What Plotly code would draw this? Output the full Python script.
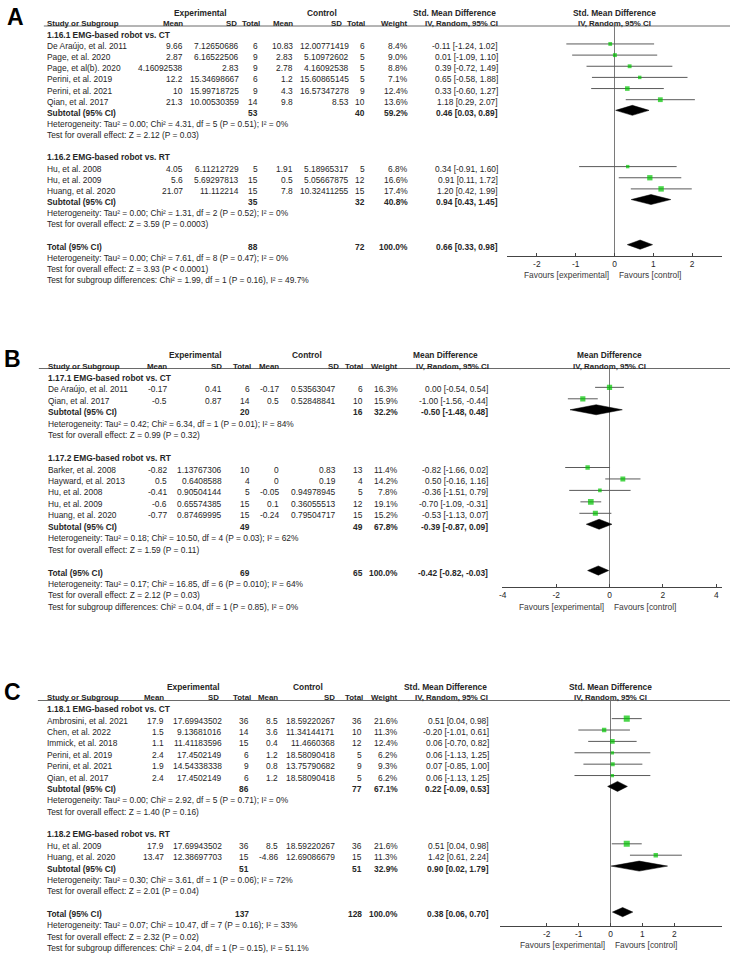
import plotly.graph_objects as go

W, H = 733, 959
FONT = "Liberation Sans, Arial, sans-serif"
FS = 8.4
FS_HDR = 7.9
TXT = "#262626"
GREEN = "#00c400"

# ---------------- panel A : Std. Mean Difference ----------------
A_measure = "Std. Mean Difference"
A_sub_label = ["1.16.1 EMG-based robot vs. CT", "1.16.2 EMG-based robot vs. RT"]
A_group = [0, 0, 0, 0, 0, 0, 1, 1, 1]
A_study = ["De Araújo, et al. 2011", "Page, et al. 2020", "Page, et al(b). 2020", "Perini, et al. 2019",
           "Perini, et al. 2021", "Qian, et al. 2017", "Hu, et al. 2008", "Hu, et al. 2009", "Huang, et al. 2020"]
A_exp_mean = [9.66, 2.87, 4.16092538, 12.2, 10, 21.3, 4.05, 5.6, 21.07]
A_exp_sd = [7.12650686, 6.16522506, 2.83, 15.34698667, 15.99718725, 10.00530359, 6.11212729, 5.69297813, 11.112214]
A_exp_n = [6, 9, 9, 6, 9, 14, 5, 15, 15]
A_ctl_mean = [10.83, 2.83, 2.78, 1.2, 4.3, 9.8, 1.91, 0.5, 7.8]
A_ctl_sd = [12.00771419, 5.10972602, 4.16092538, 15.60865145, 16.57347278, 8.53, 5.18965317, 5.05667875, 10.32411255]
A_ctl_n = [6, 5, 5, 5, 9, 10, 5, 12, 15]
A_weight = [8.4, 9.0, 8.8, 7.1, 12.4, 13.6, 6.8, 16.6, 17.4]
A_est = [-0.11, 0.01, 0.39, 0.65, 0.33, 1.18, 0.34, 0.91, 1.20]
A_lo = [-1.24, -1.09, -0.72, -0.58, -0.60, 0.29, -0.91, 0.11, 0.42]
A_hi = [1.02, 1.10, 1.49, 1.88, 1.27, 2.07, 1.60, 1.72, 1.99]
A_sub_exp_n = [53, 35]
A_sub_ctl_n = [40, 32]
A_sub_weight = [59.2, 40.8]
A_sub_est = [0.46, 0.94]
A_sub_lo = [0.03, 0.43]
A_sub_hi = [0.89, 1.45]
A_sub_het = ["Heterogeneity: Tau² = 0.00; Chi² = 4.31, df = 5 (P = 0.51); I² = 0%",
             "Heterogeneity: Tau² = 0.00; Chi² = 1.31, df = 2 (P = 0.52); I² = 0%"]
A_sub_z = ["Test for overall effect: Z = 2.12 (P = 0.03)", "Test for overall effect: Z = 3.59 (P = 0.0003)"]
A_tot_n = [88, 72]
A_tot_ci = [0.66, 0.33, 0.98]
A_tot_notes = ["Heterogeneity: Tau² = 0.00; Chi² = 7.61, df = 8 (P = 0.47); I² = 0%",
               "Test for overall effect: Z = 3.93 (P < 0.0001)",
               "Test for subgroup differences: Chi² = 1.99, df = 1 (P = 0.16), I² = 49.7%"]
A_ticks = [-2, -1, 0, 1, 2]

# ---------------- panel B : Mean Difference ----------------
B_measure = "Mean Difference"
B_sub_label = ["1.17.1 EMG-based robot vs. CT", "1.17.2 EMG-based robot vs. RT"]
B_group = [0, 0, 1, 1, 1, 1, 1]
B_study = ["De Araújo, et al. 2011", "Qian, et al. 2017", "Barker, et al. 2008", "Hayward, et al. 2013",
           "Hu, et al. 2008", "Hu, et al. 2009", "Huang, et al. 2020"]
B_exp_mean = [-0.17, -0.5, -0.82, 0.5, -0.41, -0.6, -0.77]
B_exp_sd = [0.41, 0.87, 1.13767306, 0.6408588, 0.90504144, 0.65574385, 0.87469995]
B_exp_n = [6, 14, 10, 4, 5, 15, 15]
B_ctl_mean = [-0.17, 0.5, 0, 0, -0.05, 0.1, -0.24]
B_ctl_sd = [0.53563047, 0.52848841, 0.83, 0.19, 0.94978945, 0.36055513, 0.79504717]
B_ctl_n = [6, 10, 13, 4, 5, 12, 15]
B_weight = [16.3, 15.9, 11.4, 14.2, 7.8, 19.1, 15.2]
B_est = [0.00, -1.00, -0.82, 0.50, -0.36, -0.70, -0.53]
B_lo = [-0.54, -1.56, -1.66, -0.16, -1.51, -1.09, -1.13]
B_hi = [0.54, -0.44, 0.02, 1.16, 0.79, -0.31, 0.07]
B_sub_exp_n = [20, 49]
B_sub_ctl_n = [16, 49]
B_sub_weight = [32.2, 67.8]
B_sub_est = [-0.50, -0.39]
B_sub_lo = [-1.48, -0.87]
B_sub_hi = [0.48, 0.09]
B_sub_het = ["Heterogeneity: Tau² = 0.42; Chi² = 6.34, df = 1 (P = 0.01); I² = 84%",
             "Heterogeneity: Tau² = 0.18; Chi² = 10.50, df = 4 (P = 0.03); I² = 62%"]
B_sub_z = ["Test for overall effect: Z = 0.99 (P = 0.32)", "Test for overall effect: Z = 1.59 (P = 0.11)"]
B_tot_n = [69, 65]
B_tot_ci = [-0.42, -0.82, -0.03]
B_tot_notes = ["Heterogeneity: Tau² = 0.17; Chi² = 16.85, df = 6 (P = 0.010); I² = 64%",
               "Test for overall effect: Z = 2.12 (P = 0.03)",
               "Test for subgroup differences: Chi² = 0.04, df = 1 (P = 0.85), I² = 0%"]
B_ticks = [-4, -2, 0, 2, 4]

# ---------------- panel C : Std. Mean Difference ----------------
C_measure = "Std. Mean Difference"
C_sub_label = ["1.18.1 EMG-based robot vs. CT", "1.18.2 EMG-based robot vs. RT"]
C_group = [0, 0, 0, 0, 0, 0, 1, 1]
C_study = ["Ambrosini, et al. 2021", "Chen, et al. 2022", "Immick, et al. 2018", "Perini, et al. 2019",
           "Perini, et al. 2021", "Qian, et al. 2017", "Hu, et al. 2009", "Huang, et al. 2020"]
C_exp_mean = [17.9, 1.5, 1.1, 2.4, 1.9, 2.4, 17.9, 13.47]
C_exp_sd = [17.69943502, 9.13681016, 11.41183596, 17.4502149, 14.54338338, 17.4502149, 17.69943502, 12.38697703]
C_exp_n = [36, 14, 15, 6, 9, 6, 36, 15]
C_ctl_mean = [8.5, 3.6, 0.4, 1.2, 0.8, 1.2, 8.5, -4.86]
C_ctl_sd = [18.59220267, 11.34144171, 11.4660368, 18.58090418, 13.75790682, 18.58090418, 18.59220267, 12.69086679]
C_ctl_n = [36, 10, 12, 5, 9, 5, 36, 15]
C_weight = [21.6, 11.3, 12.4, 6.2, 9.3, 6.2, 21.6, 11.3]
C_est = [0.51, -0.20, 0.06, 0.06, 0.07, 0.06, 0.51, 1.42]
C_lo = [0.04, -1.01, -0.70, -1.13, -0.85, -1.13, 0.04, 0.61]
C_hi = [0.98, 0.61, 0.82, 1.25, 1.00, 1.25, 0.98, 2.24]
C_sub_exp_n = [86, 51]
C_sub_ctl_n = [77, 51]
C_sub_weight = [67.1, 32.9]
C_sub_est = [0.22, 0.90]
C_sub_lo = [-0.09, 0.02]
C_sub_hi = [0.53, 1.79]
C_sub_het = ["Heterogeneity: Tau² = 0.00; Chi² = 2.92, df = 5 (P = 0.71); I² = 0%",
             "Heterogeneity: Tau² = 0.30; Chi² = 3.61, df = 1 (P = 0.06); I² = 72%"]
C_sub_z = ["Test for overall effect: Z = 1.40 (P = 0.16)", "Test for overall effect: Z = 2.01 (P = 0.04)"]
C_tot_n = [137, 128]
C_tot_ci = [0.38, 0.06, 0.70]
C_tot_notes = ["Heterogeneity: Tau² = 0.07; Chi² = 10.47, df = 7 (P = 0.16); I² = 33%",
               "Test for overall effect: Z = 2.32 (P = 0.02)",
               "Test for subgroup differences: Chi² = 2.04, df = 1 (P = 0.15), I² = 51.1%"]
C_ticks = [-2, -1, 0, 1, 2]


def pack(pre):
    g = globals()
    keys = ["measure", "sub_label", "group", "study", "exp_mean", "exp_sd", "exp_n", "ctl_mean", "ctl_sd",
            "ctl_n", "weight", "est", "lo", "hi", "sub_exp_n", "sub_ctl_n", "sub_weight", "sub_est", "sub_lo",
            "sub_hi", "sub_het", "sub_z", "tot_n", "tot_ci", "tot_notes", "ticks"]
    return {k: g[pre + "_" + k] for k in keys}


# page layout of each panel, in pixels of the 733x959 page
layouts = [
    dict(letter="A", lxy=(13, 17), base=12.5, step=11.15, line_y=26, line_x0=41, axis_y=256, zero=614, unit=39,
         dom=(506, 722), cols=[43, 182, 238, 257, 292, 348, 364, 408, 498],
         hdr=[182, 236, 259, 292, 341, 364, 408], exp_c=198, ctl_c=320, ci_c=(453, 460), fav_y=275),
    dict(letter="B", lxy=(10, 359), base=355, step=11.45, line_y=368.5, line_x0=36, axis_y=587, zero=609,
         unit=26.8, dom=(501, 722), cols=[44, 166, 221, 249, 278, 335, 362, 398, 488],
         hdr=[166, 221, 250, 278, 338, 362, 398], exp_c=193, ctl_c=305, ci_c=(444, 451), fav_y=607),
    dict(letter="C", lxy=(10, 692), base=686.5, step=11.38, line_y=700.5, line_x0=35, axis_y=926, zero=610,
         unit=32, dom=(499, 722), cols=[43, 163, 221, 248, 277, 334, 361, 398, 489],
         hdr=[163, 218, 250, 277, 334, 362, 398], exp_c=191, ctl_c=306, ci_c=(444, 450), fav_y=945),
]

ann = []
shapes = []
fig = go.Figure()


def txt(x, y, s, anchor="left", bold=False, size=FS, color=TXT):
    ann.append(dict(x=x / W, y=1 - y / H, xref="paper", yref="paper", text="<b>%s</b>" % s if bold else s,
                    showarrow=False, xanchor=anchor, yanchor="middle", borderpad=0,
                    font=dict(family=FONT, size=size, color=color)))


def ci_text(e, l, h):
    return "%.2f [%.2f, %.2f]" % (e, l, h)


def panel(p, L, idx):
    sx = "x" if idx == 1 else "x%d" % idx
    sy = "y" if idx == 1 else "y%d" % idx
    ry = lambda k: L["base"] + k * L["step"]
    c = L["cols"]
    hd = L["hdr"]
    txt(L["lxy"][0], L["lxy"][1], L["letter"], anchor="center", bold=True, size=23, color="#000")

    # headers
    txt(L["exp_c"], ry(0), "Experimental", "center", True)
    txt(L["ctl_c"], ry(0), "Control", "center", True)
    txt(L["ci_c"][0], ry(0), p["measure"], "center", True)
    txt(L["zero"], ry(0), p["measure"], "center", True)
    txt(c[0], ry(1), "Study or Subgroup", bold=True, size=FS_HDR)
    for x, s in zip(hd, ["Mean", "SD", "Total", "Mean", "SD", "Total", "Weight"]):
        txt(x, ry(1), s, "right", True, size=FS_HDR)
    txt(L["ci_c"][1], ry(1), "IV, Random, 95% CI", "center", True, size=FS_HDR)
    txt(L["zero"], ry(1), "IV, Random, 95% CI", "center", True, size=FS_HDR)
    shapes.append(dict(type="line", xref="paper", yref="paper", x0=L["line_x0"] / W, x1=730 / W,
                       y0=1 - L["line_y"] / H, y1=1 - L["line_y"] / H, line=dict(color="#6a6a6a", width=1)))

    cx, cy, mx, my, ms = [], [], [], [], []
    diamonds = []
    k = 2
    for g in range(len(p["sub_label"])):
        txt(c[0], ry(k), p["sub_label"][g], bold=True)
        k += 1
        for i, gg in enumerate(p["group"]):
            if gg != g:
                continue
            y = ry(k)
            txt(c[0], y, p["study"][i])
            vals = [p["exp_mean"][i], p["exp_sd"][i], p["exp_n"][i], p["ctl_mean"][i], p["ctl_sd"][i],
                    p["ctl_n"][i]]
            for x, v in zip(c[1:7], vals):
                txt(x, y, str(v), "right")
            txt(c[7], y, "%.1f%%" % p["weight"][i], "right")
            txt(c[8], y, ci_text(p["est"][i], p["lo"][i], p["hi"][i]), "right")
            cx += [p["lo"][i], p["hi"][i], None]
            cy += [y - 2, y - 2, None]
            mx.append(p["est"][i])
            my.append(y - 2)
            ms.append(1.3 * p["weight"][i] ** 0.5)
            k += 1
        y = ry(k)
        txt(c[0], y, "Subtotal (95% CI)", bold=True)
        txt(c[3], y, str(p["sub_exp_n"][g]), "right", True)
        txt(c[6], y, str(p["sub_ctl_n"][g]), "right", True)
        txt(c[7], y, "%.1f%%" % p["sub_weight"][g], "right", True)
        txt(c[8], y, ci_text(p["sub_est"][g], p["sub_lo"][g], p["sub_hi"][g]), "right", True)
        diamonds.append((p["sub_est"][g], p["sub_lo"][g], p["sub_hi"][g], y - 2.5, 5))
        txt(c[0], ry(k + 1), p["sub_het"][g])
        txt(c[0], ry(k + 2), p["sub_z"][g])
        k += 4
    y = ry(k)
    e, l, h = p["tot_ci"]
    txt(c[0], y, "Total (95% CI)", bold=True)
    txt(c[3], y, str(p["tot_n"][0]), "right", True)
    txt(c[6], y, str(p["tot_n"][1]), "right", True)
    txt(c[7], y, "%.1f%%" % 100, "right", True)
    txt(c[8], y, ci_text(e, l, h), "right", True)
    diamonds.append((e, l, h, y - 2, 4.6))
    for j, note in enumerate(p["tot_notes"]):
        txt(c[0], ry(k + 1 + j), note)

    # forest part
    fig.add_trace(go.Scatter(x=cx, y=cy, mode="lines", line=dict(color="#5a5a5a", width=1),
                             hoverinfo="skip", xaxis=sx, yaxis=sy))
    fig.add_trace(go.Scatter(x=mx, y=my, mode="markers", xaxis=sx, yaxis=sy,
                             marker=dict(symbol="square", size=ms, color=GREEN, line=dict(width=0))))
    for e, l, h, y, hh in diamonds:
        fig.add_trace(go.Scatter(x=[l, e, h, e, l], y=[y, y - hh, y, y + hh, y], mode="lines", fill="toself",
                                 fillcolor="#000", line=dict(color="#000", width=0.5), xaxis=sx, yaxis=sy,
                                 hoverinfo="skip"))
    fav_y = L["fav_y"]
    txt(L["zero"] - 5, fav_y, "Favours [experimental]", "right", color="#3a3a3a")
    txt(L["zero"] + 4, fav_y, "Favours [control]", "left", color="#3a3a3a")

    r0 = (L["dom"][0] - L["zero"]) / L["unit"]
    r1 = (L["dom"][1] - L["zero"]) / L["unit"]
    xa = dict(domain=[L["dom"][0] / W, L["dom"][1] / W], range=[r0, r1], anchor=sy, showgrid=False,
              showline=True, linecolor="#444", linewidth=1, ticks="inside", ticklen=3, tickcolor="#444",
              tickvals=p["ticks"], ticktext=[str(t) for t in p["ticks"]],
              tickfont=dict(family=FONT, size=FS, color=TXT),
              zeroline=True, zerolinecolor="#7a7a7a", zerolinewidth=1, fixedrange=True)
    ya = dict(domain=[1 - L["axis_y"] / H, 1 - L["line_y"] / H], range=[L["axis_y"], L["line_y"]],
              visible=False, fixedrange=True)
    fig.update_layout(**{("xaxis" if idx == 1 else "xaxis%d" % idx): xa,
                         ("yaxis" if idx == 1 else "yaxis%d" % idx): ya})


for n, pre in enumerate(["A", "B", "C"]):
    panel(pack(pre), layouts[n], n + 1)

fig.update_layout(width=W, height=H, margin=dict(l=0, r=0, t=0, b=0), showlegend=False,
                  paper_bgcolor="white", plot_bgcolor="rgba(0,0,0,0)", annotations=ann, shapes=shapes)

fig.write_html("out.html", config={"displayModeBar": False},
               post_script="document.body.style.margin='0';")
